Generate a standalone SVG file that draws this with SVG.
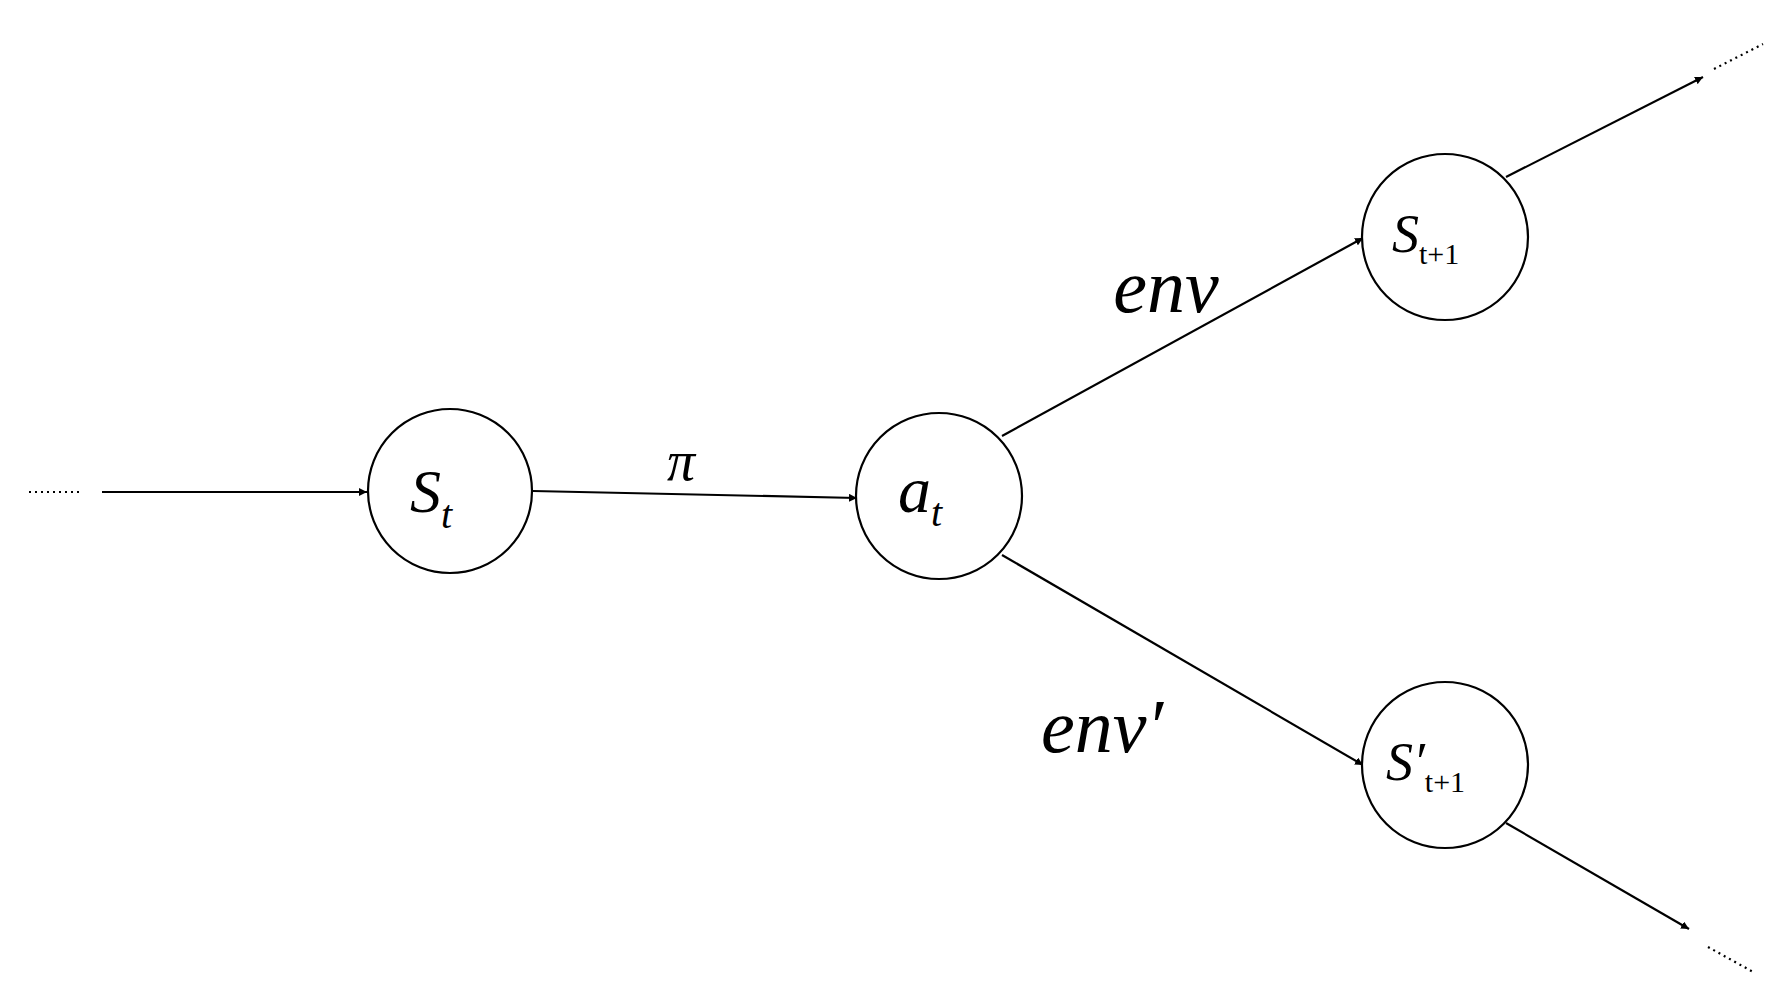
<svg xmlns="http://www.w3.org/2000/svg" width="1787" height="999" viewBox="0 0 1787 999">
<style>
.n{fill:#fff;stroke:#000;stroke-width:2.2}
.e{stroke:#000;stroke-width:2.2;fill:none}
.d{stroke:#000;stroke-width:2.2;stroke-dasharray:2 4;fill:none}
text{font-family:"Liberation Serif",serif;font-style:italic;fill:#000}
</style>
<defs><marker id="a" viewBox="0 0 10 10" refX="10" refY="5" markerWidth="8" markerHeight="8" markerUnits="userSpaceOnUse" orient="auto"><path d="M0,0L10,5L0,10z"/></marker></defs>
<rect width="1787" height="999" fill="#fff"/>
<g id="connectors">
<line class="d" x1="29" y1="492" x2="80" y2="492"/>
<line class="e" x1="102" y1="492" x2="367" y2="492" marker-end="url(#a)"/>
<line class="e" x1="533" y1="491" x2="857" y2="498" marker-end="url(#a)"/>
<line class="e" x1="1002" y1="436" x2="1363" y2="238" marker-end="url(#a)"/>
<line class="e" x1="1002" y1="555" x2="1363" y2="765" marker-end="url(#a)"/>
<line class="e" x1="1506" y1="177" x2="1703" y2="77" marker-end="url(#a)"/>
<line class="d" x1="1714" y1="69" x2="1763" y2="44"/>
<line class="e" x1="1506" y1="823" x2="1689" y2="929" marker-end="url(#a)"/>
<line class="d" x1="1708" y1="947" x2="1755" y2="973"/>
<text x="681" y="480" font-size="56" font-style="normal" text-anchor="middle">π</text>
<text x="1166" y="312" font-size="76" text-anchor="middle">env</text>
<text x="1102" y="752" font-size="76" text-anchor="middle">env′</text>
</g>
<g id="st"><circle class="n" cx="450" cy="491" r="82"/><text x="410" y="512" font-size="62">S<tspan font-size="40" dy="16">t</tspan></text></g>
<g id="at"><circle class="n" cx="939" cy="496" r="83"/><text x="898" y="512" font-size="66">a<tspan font-size="40" dy="14">t</tspan></text></g>
<g id="st1"><circle class="n" cx="1445" cy="237" r="83"/><text x="1392" y="252" font-size="54">S<tspan font-size="30" dy="12" font-style="normal">t+1</tspan></text></g>
<g id="sp1"><circle class="n" cx="1445" cy="765" r="83"/><text x="1386" y="780" font-size="54">S′<tspan font-size="30" dy="12" font-style="normal">t+1</tspan></text></g>
</svg>
